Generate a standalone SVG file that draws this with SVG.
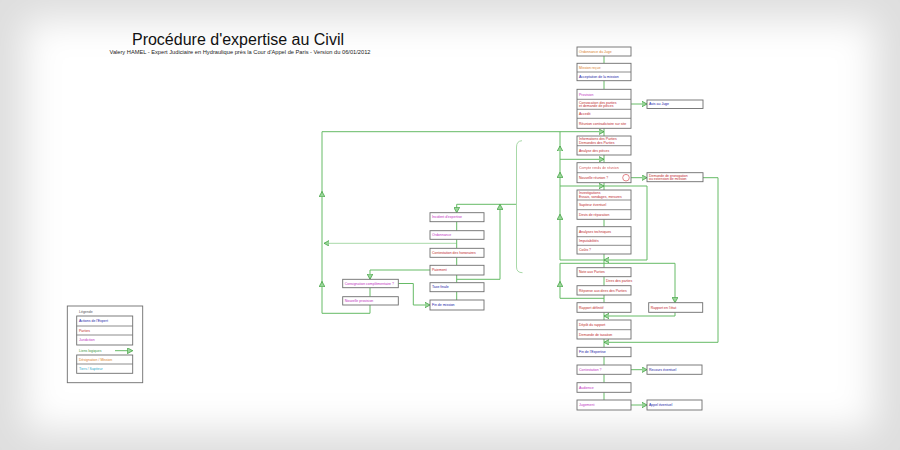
<svg xmlns="http://www.w3.org/2000/svg" width="900" height="450" viewBox="0 0 900 450">
<defs>
<filter id="blur" x="-10%" y="-10%" width="120%" height="120%"><feGaussianBlur stdDeviation="18"/></filter>
<marker id="ar" markerUnits="userSpaceOnUse" markerWidth="6" markerHeight="6" refX="4.5" refY="2.5" orient="auto" viewBox="0 0 5 5">
<path d="M0,0 L4.5,2.5 L0,5 z" fill="#9ad69a" stroke="#3f9f3f" stroke-width="0.6"/>
</marker>
<style>
.box{fill:#fff;stroke:#6e6e6e;stroke-width:0.9}
.dv{stroke:#6e6e6e;stroke-width:0.8}
.t{font-family:"Liberation Sans",Arial,sans-serif;font-size:3.5px}
.o{fill:#d9822b}.b{fill:#1a1aa6}.r{fill:#c0282d}.m{fill:#c12fc1}.c{fill:#2aa7c9}.g{fill:#3a9a3a}.k{fill:#555}
.ln{fill:none;stroke:#66bb66;stroke-width:1}
.lt{fill:none;stroke:#a8d9a8;stroke-width:1}
.ah{fill:none;stroke:#66bb66;stroke-width:1;marker-end:url(#ar)}
</style>
</defs>
<rect width="900" height="450" fill="#dedede"/>
<rect x="25" y="20" width="850" height="410" fill="#ffffff" filter="url(#blur)"/>

<g id="title">
<text x="238" y="45" text-anchor="middle" font-family="Liberation Sans, Arial, sans-serif" font-size="16" fill="#111">Procédure d'expertise au Civil</text>
<text x="240" y="54" text-anchor="middle" font-family="Liberation Sans, Arial, sans-serif" font-size="5.7" fill="#222">Valery HAMEL - Expert Judiciaire en Hydraulique près la Cour d'Appel de Paris - Version du 06/01/2012</text>
</g>

<g id="connectors">
<path class="ln" d="M604,56V63.3M604,80.7V89.3M604,128.3V136M604,155V162.7M604,182.7V190M604,219.3V226.7M604,254V267.7M604,276.7V285.7M604,295V302.7M604,312.3V320M604,339V347.3M604,356.7V365M604,374.3V382.7M604,392.3V400"/>
<path class="ah" d="M631,104H647"/>
<path class="ah" d="M631,177.7H647"/>
<path class="ah" d="M631,369.7H647"/>
<path class="ah" d="M631,405H647"/>
<path class="ah" d="M703,177.7H718V342.3H604"/>
<path class="ah" d="M604,186H647V260H604"/>
<path class="ln" d="M604,260H560V131.7"/>
<path class="ah" d="M560,159.3H604"/>
<path class="ah" d="M560,186H604"/>
<path class="ah" d="M560,150V146"/>
<path class="ah" d="M560,176V172.3"/>
<path class="ah" d="M560,218V214.3"/>
<path class="ah" d="M604,298.3H560V263.3H675V302.7"/>
<path class="ah" d="M560,285V281.5"/>
<path class="ah" d="M675,312.3V316H604"/>
<path class="ah" d="M370,305V313.3H322V131.7H604"/>
<path class="ah" d="M322,195V191.5"/>
<path class="ah" d="M322,285V281.5"/>
<path class="lt" d="M456.7,243.3H324" marker-end="url(#ar)"/>
<path class="ln" d="M456.7,221.7V230.7M456.7,239.3V248.3M456.7,257.3V265.3M456.7,275V282.7M456.7,291.7V300M370,287.7V296.7"/>
<path class="ah" d="M516.5,204.3H456.7V212.7"/>
<path class="ah" d="M456.7,279.3H500V204.3"/>
<path class="ah" d="M430,270H370V279.3"/>
<path class="ah" d="M398.3,283.5H413.3V305H430"/>
<path class="lt" d="M522,140.7Q516.5,141 516.5,147V267Q516.5,272.7 522.5,272.7"/>
</g>

<g id="n1"><rect class="box" x="577" y="47" width="54" height="9"/><text class="t o" x="579" y="52.7">Ordonnance du Juge</text></g>
<g id="n2"><rect class="box" x="577" y="63.3" width="54" height="17.4"/><line class="dv" x1="577" y1="72" x2="631" y2="72"/>
<text class="t o" x="579" y="68.9">Mission reçue</text><text class="t b" x="579" y="77.6">Acceptation de la mission</text></g>
<g id="n3"><rect class="box" x="577" y="89.3" width="54" height="39"/>
<line class="dv" x1="577" y1="99.3" x2="631" y2="99.3"/><line class="dv" x1="577" y1="109.3" x2="631" y2="109.3"/><line class="dv" x1="577" y1="118.3" x2="631" y2="118.3"/>
<text class="t m" x="579" y="95.5">Provision</text>
<text class="t r" x="579" y="103.6">Convocation des parties</text><text class="t r" x="579" y="107.3">et demande de pièces</text>
<text class="t r" x="579" y="115">Accedit</text>
<text class="t r" x="579" y="124.5">Réunion contradictoire sur site</text></g>
<g id="n3s"><rect class="box" x="647" y="100" width="56" height="8.5"/><text class="t b" x="649" y="105.4">Avis au Juge</text></g>
<g id="n4"><rect class="box" x="577" y="136" width="54" height="19"/><line class="dv" x1="577" y1="145.7" x2="631" y2="145.7"/>
<text class="t r" x="579" y="140.2">Informations des Parties</text><text class="t r" x="579" y="143.8">Demandes des Parties</text>
<text class="t r" x="579" y="151.5">Analyse des pièces</text></g>
<g id="n5"><rect class="box" x="577" y="162.7" width="54" height="20"/><line class="dv" x1="577" y1="172.7" x2="631" y2="172.7"/>
<text class="t r" x="579" y="168.9" opacity="0.75">Compte rendu de réunion</text>
<text class="t r" x="579" y="178.9">Nouvelle réunion ?</text>
<circle cx="626" cy="177.7" r="3.3" fill="none" stroke="#d9535a" stroke-width="0.7"/></g>
<g id="n5s"><rect class="box" x="647" y="172.7" width="56" height="9"/>
<text class="t r" x="649" y="176.6">Demande de prorogation</text><text class="t r" x="649" y="180.2">ou extension de mission</text></g>
<g id="n6"><rect class="box" x="577" y="190" width="54" height="29.3"/>
<line class="dv" x1="577" y1="200" x2="631" y2="200"/><line class="dv" x1="577" y1="209.7" x2="631" y2="209.7"/>
<text class="t r" x="579" y="194.2">Investigations</text><text class="t r" x="579" y="197.9">Essais, sondages, mesures</text>
<text class="t r" x="579" y="206">Sapiteur éventuel</text>
<text class="t r" x="579" y="215.7">Devis de réparation</text></g>
<g id="n7"><rect class="box" x="577" y="226.7" width="54" height="27.3"/>
<line class="dv" x1="577" y1="236.7" x2="631" y2="236.7"/><line class="dv" x1="577" y1="245.3" x2="631" y2="245.3"/>
<text class="t r" x="579" y="232.9">Analyses techniques</text>
<text class="t r" x="579" y="242.2">Imputabilités</text>
<text class="t r" x="579" y="250.9">Coûts ?</text></g>
<g id="n8"><rect class="box" x="577" y="267.7" width="54" height="9"/><text class="t r" x="579" y="273.4">Note aux Parties</text></g>
<g id="lbl8"><text class="t r" x="606" y="282.4">Dires des parties</text></g>
<g id="n8b"><rect class="box" x="577" y="285.7" width="54" height="9.3"/><text class="t r" x="579" y="291.6">Réponse aux dires des Parties</text></g>
<g id="n9"><rect class="box" x="577" y="302.7" width="54" height="9.6"/><text class="t r" x="579" y="308.7">Rapport définitif</text></g>
<g id="n9s"><rect class="box" x="648.7" y="302.7" width="54" height="9.6"/><text class="t r" x="650.7" y="308.7">Rapport en l'état</text></g>
<g id="n10"><rect class="box" x="577" y="320" width="54" height="19"/><line class="dv" x1="577" y1="329.7" x2="631" y2="329.7"/>
<text class="t r" x="579" y="326">Dépôt du rapport</text><text class="t r" x="579" y="335.6">Demande de taxation</text></g>
<g id="n11"><rect class="box" x="577" y="347.3" width="54" height="9.4"/><text class="t b" x="579" y="353.2">Fin de l'Expertise</text></g>
<g id="n12"><rect class="box" x="577" y="365" width="54" height="9.3"/><text class="t m" x="579" y="370.9">Contestation ?</text></g>
<g id="n12s"><rect class="box" x="647" y="365" width="55" height="9.3"/><text class="t b" x="649" y="370.9">Recours éventuel</text></g>
<g id="n13"><rect class="box" x="577" y="382.7" width="54" height="9.6"/><text class="t m" x="579" y="388.7">Audience</text></g>
<g id="n14"><rect class="box" x="577" y="400" width="54" height="10"/><text class="t m" x="579" y="406.2">Jugement</text></g>
<g id="n14s"><rect class="box" x="647" y="400" width="55" height="10"/><text class="t b" x="649" y="406.2">Appel éventuel</text></g>

<g id="nA"><rect class="box" x="430" y="212.7" width="54" height="9"/><text class="t m" x="432" y="218.4">Incident d'expertise</text></g>
<g id="nB"><rect class="box" x="430" y="230.7" width="54" height="8.6"/><text class="t m" x="432" y="236.2">Ordonnance</text></g>
<g id="nC"><rect class="box" x="430" y="248.3" width="54" height="9"/><text class="t r" x="432" y="254">Contestation des honoraires</text></g>
<g id="nD"><rect class="box" x="430" y="265.3" width="54" height="9.7"/><text class="t r" x="432" y="271.4">Paiement</text></g>
<g id="nE"><rect class="box" x="430" y="282.7" width="54" height="9"/><text class="t b" x="432" y="288.4">Taxe finale</text></g>
<g id="nF"><rect class="box" x="430" y="300" width="54" height="10"/><text class="t b" x="432" y="306.2">Fin de mission</text></g>
<g id="nG"><rect class="box" x="342.7" y="279.3" width="55.6" height="8.4"/><text class="t m" x="344.7" y="284.7">Consignation complémentaire ?</text></g>
<g id="nH"><rect class="box" x="342.7" y="296.7" width="55.6" height="8.3"/><text class="t m" x="344.7" y="302">Nouvelle provision</text></g>

<g id="legend">
<rect x="67.3" y="306" width="75.4" height="76.7" fill="#fff" stroke="#6e6e6e" stroke-width="0.9"/>
<text class="t k" x="79" y="313.4">Légende</text>
<rect class="box" x="76.7" y="316" width="56" height="29"/>
<line class="dv" x1="76.7" y1="326" x2="132.7" y2="326"/><line class="dv" x1="76.7" y1="335" x2="132.7" y2="335"/>
<text class="t b" x="79" y="322.2">Actions de l'Expert</text>
<text class="t r" x="79" y="331.7">Parties</text>
<text class="t m" x="79" y="341.2">Juridiction</text>
<text class="t g" x="79" y="351.9">Liens logiques</text>
<path class="ah" d="M115,350.7H132.7"/>
<rect class="box" x="76.7" y="355" width="56" height="18.3"/><line class="dv" x1="76.7" y1="364" x2="132.7" y2="364"/>
<text class="t o" x="79" y="360.7">Désignation / Mission</text>
<text class="t c" x="79" y="369.9">Tiers / Sapiteur</text>
</g>
</svg>
